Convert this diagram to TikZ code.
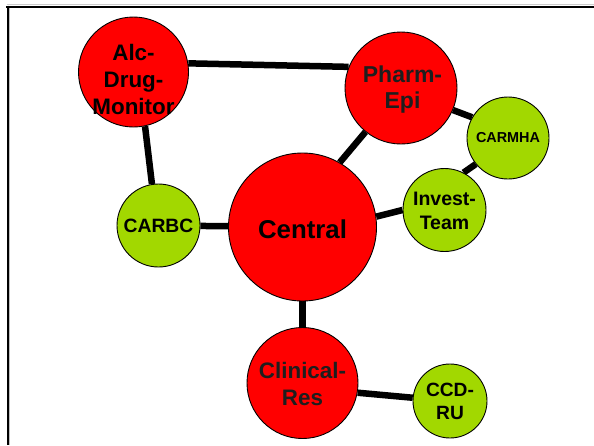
\documentclass[tikz,border=0pt]{standalone}
\usepackage{fontspec}
\setmainfont{Liberation Sans}
\definecolor{nodered}{RGB}{255,0,0}
\definecolor{nodegreen}{RGB}{162,216,0}
\definecolor{txtdark}{RGB}{30,30,30}
\pgfdeclarelayer{bg}
\pgfsetlayers{bg,main}
\begin{document}
\begin{tikzpicture}[x=1pt,y=-1pt,
  bignode/.style={circle,draw=black,line width=0.9pt,fill=nodered,inner sep=0pt},
  smallnode/.style={circle,draw=black,line width=0.9pt,fill=nodegreen,inner sep=0pt},
  txt/.style={font=\bfseries,align=center,inner sep=0pt,text=txtdark},
  link/.style={line width=6.5pt,black}]
\useasboundingbox (0,0) rectangle (594,445);
% frame
\draw[gray!40,line width=1pt] (7,4.5) -- (594,4.5);
\draw[gray!50,line width=1pt] (9.3,7) -- (9.3,445);
\draw[black,line width=2pt] (6,6.5) -- (594,6.5);
\draw[black,line width=2pt] (7.5,5.5) -- (7.5,445);
% circles
\node[bignode,minimum size=110pt] (alc) at (133.5,72) {};
\node[bignode,minimum size=112pt] (pharm) at (401,88) {};
\node[smallnode,minimum size=82pt] (carmha) at (508,138) {};
\node[smallnode,minimum size=83pt] (invest) at (444.5,210) {};
\node[bignode,minimum size=148pt] (central) at (302.5,227) {};
\node[smallnode,minimum size=83pt] (carbc) at (158.5,225.5) {};
\node[bignode,minimum size=111pt] (clinical) at (302.5,383) {};
\node[smallnode,minimum size=74pt] (ccdru) at (450,401) {};
% connectors (behind circles)
\begin{pgfonlayer}{bg}
\draw[link] (alc.9) -- (pharm.158);
\draw[link] (alc.-78) -- (carbc.99);
\draw[link] (carbc) -- (central);
\draw[link] (central.60) -- (pharm.-129);
\draw[link] (central.8) -- (invest.180);
\draw[link] (pharm.-23) -- (carmha.150);
\draw[link] (carmha.-141) -- (invest.63);
\draw[link] (central) -- (clinical);
\draw[link] (clinical.-10) -- (ccdru.175);
\end{pgfonlayer}
% labels
\node[txt,font=\fontsize{22.4}{27}\bfseries,text=black] (alct) at ([yshift=-7.5pt]alc.center) {Alc-\\Drug-\\Monitor};
\node[txt,font=\fontsize{23}{25.5}\bfseries] (pharmt) at ([yshift=-1.5pt,xshift=1.5pt]pharm.center) {Pharm-\\Epi};
\node[txt,font=\fontsize{14.4}{17}\bfseries,text=black] (carmhat) at (carmha.center) {CARMHA};
\node[txt,font=\fontsize{19.5}{24}\bfseries,text=black] (investt) at ([yshift=-1pt]invest.center) {Invest-\\Team};
\node[txt,font=\fontsize{25.8}{30}\bfseries,text=black] (centralt) at ([yshift=-2pt]central.center) {Central};
\node[txt,font=\fontsize{19.3}{23}\bfseries,text=black] (carbct) at (carbc.center) {CARBC};
\node[txt,font=\fontsize{22.4}{26.5}\bfseries] (clinicalt) at ([yshift=-1pt]clinical.center) {Clinical-\\Res};
\node[txt,font=\fontsize{19.2}{23.5}\bfseries,text=black] (ccdrut) at ([yshift=-0.5pt]ccdru.center) {CCD-\\RU};
\end{tikzpicture}
\end{document}
